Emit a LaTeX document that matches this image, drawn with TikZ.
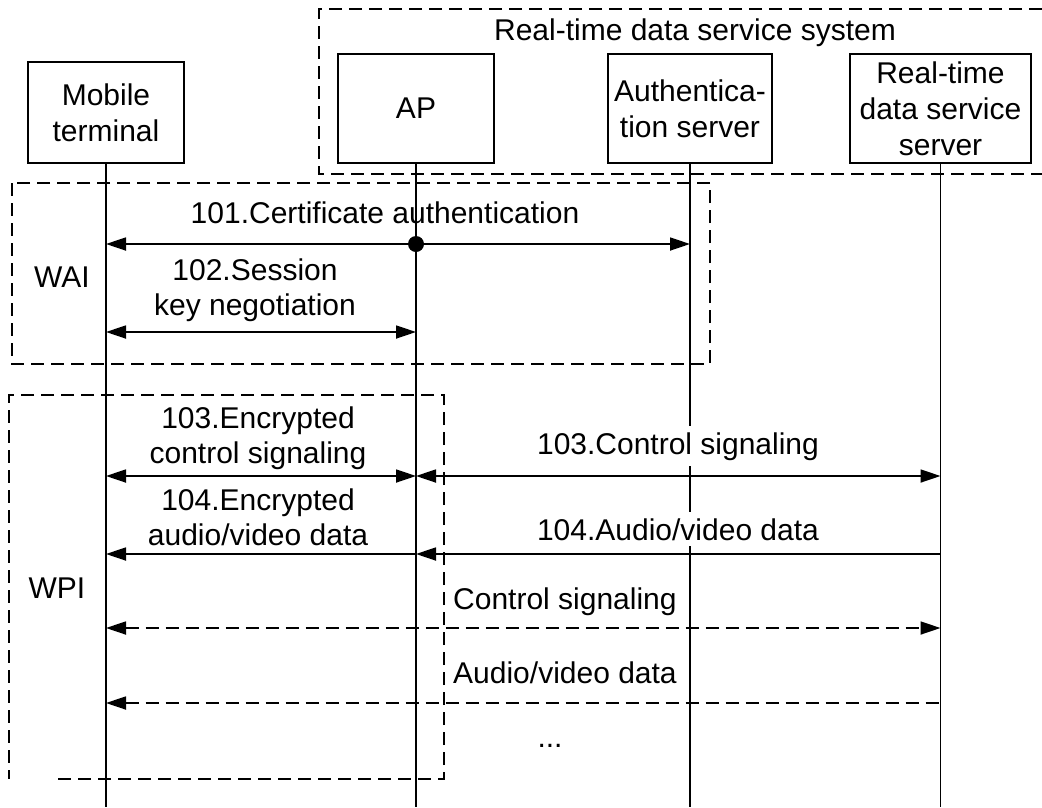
\documentclass[tikz,border=0pt]{standalone}
\usepackage{fontspec}
\setmainfont{Liberation Sans}
\usetikzlibrary{arrows.meta}
\begin{document}
\begin{tikzpicture}[x=1pt,y=-1pt,
  txt/.style={font=\fontsize{30}{35}\selectfont, inner sep=0pt},
  actor/.style={draw, line width=1.8pt, font=\fontsize{30}{36}\selectfont, align=center, inner sep=2pt},
  life/.style={line width=1.8pt},
  msg/.style={line width=1.8pt, >={Triangle[length=20pt,width=13pt]}},
  grp/.style={line width=1.8pt, dash pattern=on 13pt off 7pt},
  grpthin/.style={line width=1.4pt, dash pattern=on 13pt off 7pt}]
\useasboundingbox (0,0) rectangle (1042,807);

% groups
\draw[grp] (1042,9) -- (319,9) -- (319,174) -- (1042,174);
\draw[grp] (12,183) rectangle (710,364);
\draw[grpthin] (58,779) -- (444,779) -- (444,395) -- (9,395) -- (9,779);

% actors
\node[actor, minimum width=156pt, minimum height=101pt] (mt) at (106,112.5) {Mobile\\terminal};
\node[actor, minimum width=156pt, minimum height=109pt] (ap) at (416,108.5) {AP};
\node[actor, minimum width=164pt, minimum height=109pt] (as) at (690,108.5) {Authentica-\\tion server};
\node[actor, minimum width=181pt, minimum height=109pt] (rs) at (940.5,108.5) {Real-time\\data service\\server};

\coordinate (bot) at (0,807);
\coordinate (r101) at (0,244);
\coordinate (r102) at (0,332);
\coordinate (r103) at (0,476);
\coordinate (r104) at (0,554);
\coordinate (r105) at (0,628);
\coordinate (r106) at (0,703);

% lifelines
\draw[life] (mt.south) -- (mt.south |- bot);
\draw[life] (ap.south) -- (ap.south |- bot);
\draw[life] (as.south) -- (as.south |- bot);
\draw[life] (rs.south) -- (rs.south |- bot);

% messages
\draw[msg,<->] (mt |- r101) -- (as |- r101);
\node[circle, fill, inner sep=0pt, minimum size=16pt] (dot) at (ap |- r101) {};
\draw[msg,<->] (mt |- r102) -- (ap |- r102);
\draw[msg,<->] (mt |- r103) -- (ap |- r103);
\draw[msg,<->] (ap |- r103) -- (rs |- r103);
\draw[msg,<-] (mt |- r104) -- (ap |- r104);
\draw[msg,<-] (ap |- r104) -- (rs |- r104);
\draw[msg,dash pattern=on 13pt off 7pt,<->] (mt |- r105) -- (rs |- r105);
\draw[msg,dash pattern=on 13pt off 7pt,<-] (mt |- r106) -- (rs |- r106);

% labels
\node[txt, anchor=base] (sys) at (695,40) {Real-time data service system};
\node[txt, anchor=base] (wai) at (62,287) {WAI};
\node[txt, anchor=base] (wpi) at (57,598) {WPI};
\node[txt, anchor=base] (l101) at (385,223) {101.Certificate authentication};
\node[txt, align=center] (l102) at (255,290) {102.Session\\key negotiation};
\node[txt, align=center] (l103e) at (258,438) {103.Encrypted\\control signaling};
\node[txt, align=center] (l104e) at (258,517) {104.Encrypted\\audio/video data};
\node[txt, anchor=base, fill=white, inner sep=6pt] (l103) at (678,454) {103.Control signaling};
\node[txt, anchor=base, fill=white, inner sep=6pt] (l104) at (678,540) {104.Audio/video data};
\node[txt, anchor=base west] (lcs) at (453,609) {Control signaling};
\node[txt, anchor=base west] (lav) at (453,683) {Audio/video data};
\node[txt, anchor=base] (dots) at (550,747) {...};
\end{tikzpicture}
\end{document}
